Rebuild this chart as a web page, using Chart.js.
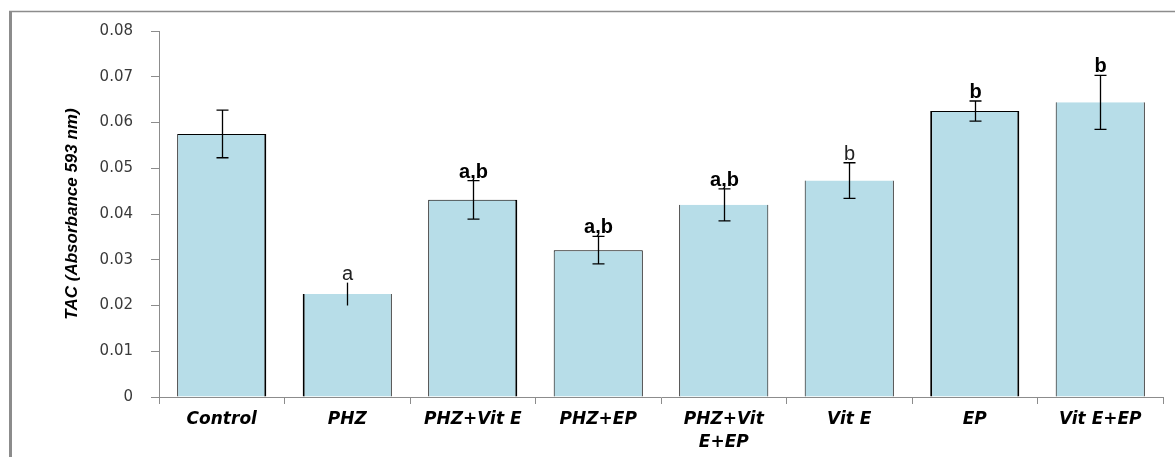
<!DOCTYPE html>
<html>
<head>
<meta charset="utf-8">
<script src="https://cdn.jsdelivr.net/npm/chart.js@4"></script>
<style>
  html, body { margin: 0; padding: 0; background: #fff; }
  #wrap { width: 1175px; height: 457px; }
</style>
</head>
<body>
<div id="wrap"><canvas id="myChart" width="1175" height="457"></canvas></div>
<script>
// values
const groups = ['Control', 'PHZ', 'PHZ+Vit E', 'PHZ+EP', ['PHZ+Vit', 'E+EP'], 'Vit E', 'EP', 'Vit E+EP'];
const tacMean = [0.0575, 0.0225, 0.0431, 0.0321, 0.0420, 0.0473, 0.0625, 0.0644];
const tacErr = [0.0052, 0.0025, 0.0042, 0.0030, 0.0035, 0.0039, 0.0022, 0.0059];
const sigLetters = ['', 'a', 'a,b', 'a,b', 'a,b', 'b', 'b', 'b'];
const yTickLabels = ['0', '0.01', '0.02', '0.03', '0.04', '0.05', '0.06', '0.07', '0.08'];

// outer frame of the figure (grey line top and left)
const framePlugin = {
    id: 'frame',
    beforeDraw(chart) {
        const ctx = chart.ctx;
        ctx.save();
        ctx.fillStyle = '#fff';
        ctx.fillRect(0, 0, chart.width, chart.height);
        ctx.strokeStyle = '#8c8c8c';
        ctx.lineWidth = 3;
        ctx.beginPath();
        ctx.moveTo(10.5, chart.height);
        ctx.lineTo(10.5, 11);
        ctx.stroke();
        ctx.lineWidth = 1.5;
        ctx.beginPath();
        ctx.moveTo(9, 11.5);
        ctx.lineTo(chart.width, 11.5);
        ctx.stroke();
        ctx.restore();
    }
};

// error bars + significance letters
const errorPlugin = {
    id: 'errorBars',
    afterDatasetsDraw(chart) {
        const ctx = chart.ctx;
        const y = chart.scales.y;
        const meta = chart.getDatasetMeta(0);
        ctx.save();
        ctx.strokeStyle = '#000';
        ctx.lineWidth = 1.3;
        for (let i = 0; i < tacMean.length; i++) {
            const x = Math.round(meta.data[i].x) + 0.5;
            const top = y.getPixelForValue(tacMean[i] + tacErr[i]);
            const bot = y.getPixelForValue(tacMean[i] - tacErr[i]);
            ctx.beginPath();
            ctx.moveTo(x, top);
            ctx.lineTo(x, bot);
            if (i != 1) {
                ctx.moveTo(x - 6, top);
                ctx.lineTo(x + 6, top);
                ctx.moveTo(x - 6, bot);
                ctx.lineTo(x + 6, bot);
            }
            ctx.stroke();

            if (sigLetters[i]) {
                const thin = (i == 1 || i == 5);
                ctx.font = (thin ? '' : 'bold ') + '20px "Liberation Sans", Arial, sans-serif';
                ctx.fillStyle = thin ? '#222' : '#000';
                ctx.textAlign = 'center';
                ctx.textBaseline = 'alphabetic';
                ctx.fillText(sigLetters[i], x, top - 3);
            }
        }
        ctx.restore();
    }
};

const ctx = document.getElementById('myChart');
new Chart(ctx, {
    type: 'bar',
    data: {
        labels: groups,
        datasets: [{
            data: tacMean,
            backgroundColor: '#b7dde8',
            borderColor: '#000',
            borderWidth: [
                {top: 1, left: 1, right: 2, bottom: 0},
                {top: 0, left: 2, right: 1, bottom: 0},
                {top: 1, left: 1, right: 2, bottom: 0},
                {top: 1, left: 1, right: 1, bottom: 0},
                {top: 0, left: 1, right: 1, bottom: 0},
                {top: 0, left: 1, right: 1, bottom: 0},
                {top: 1, left: 2, right: 2, bottom: 0},
                {top: 0, left: 1, right: 1, bottom: 0}
            ],
            borderSkipped: 'bottom',
            categoryPercentage: 1,
            barPercentage: 0.71
        }]
    },
    options: {
        responsive: false,
        animation: false,
        events: [],
        layout: {
            padding: { left: 0, right: 12, top: 31, bottom: 0 }
        },
        plugins: {
            legend: { display: false },
            tooltip: { enabled: false },
            title: { display: false }
        },
        scales: {
            x: {
                grid: {
                    offset: true,
                    drawOnChartArea: false,
                    drawTicks: true,
                    tickLength: 7,
                    color: '#8c8c8c'
                },
                border: { color: '#8c8c8c', width: 1 },
                ticks: {
                    color: '#000',
                    padding: 5,
                    maxRotation: 0,
                    autoSkip: false,
                    font: {
                        family: '"DejaVu Sans", Verdana, sans-serif',
                        size: 17,
                        style: 'italic',
                        weight: 'bold',
                        lineHeight: 1.3
                    }
                },
                afterFit(scale) {
                    scale.height = 60;
                    scale.paddingLeft = 0;
                    scale.paddingRight = 0;
                }
            },
            y: {
                min: 0,
                max: 0.08,
                grid: {
                    drawOnChartArea: false,
                    drawTicks: true,
                    tickLength: 8,
                    color: '#8c8c8c'
                },
                border: { color: '#8c8c8c', width: 1 },
                ticks: {
                    stepSize: 0.01,
                    padding: 18,
                    color: '#3a3a3a',
                    font: {
                        family: '"DejaVu Sans", Verdana, sans-serif',
                        size: 15
                    },
                    callback: function (value, index) {
                        return yTickLabels[index];
                    }
                },
                title: {
                    display: true,
                    text: 'TAC (Absorbance 593 nm)',
                    color: '#000',
                    padding: { top: 62, bottom: 0 },
                    font: {
                        family: '"Liberation Sans", Arial, sans-serif',
                        size: 17,
                        style: 'italic',
                        weight: 'bold'
                    }
                },
                afterFit(scale) {
                    scale.width = 159;
                    scale.paddingTop = 0;
                    scale.paddingBottom = 0;
                }
            }
        }
    },
    plugins: [framePlugin, errorPlugin]
});
</script>
</body>
</html>
